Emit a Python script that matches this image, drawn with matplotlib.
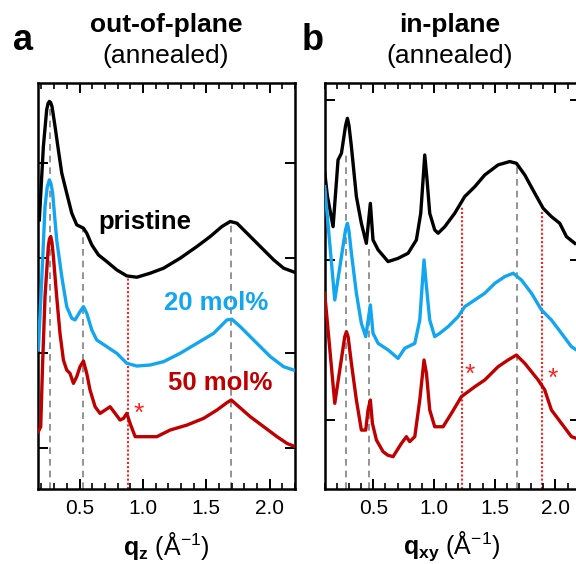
import matplotlib
matplotlib.use('Agg')
import matplotlib.pyplot as plt
from matplotlib.ticker import MultipleLocator, FixedLocator, NullFormatter

plt.rcParams['font.family'] = ['Liberation Sans', 'DejaVu Sans']
plt.rcParams['mathtext.fontset'] = 'custom'
plt.rcParams['mathtext.rm'] = 'Liberation Sans'
plt.rcParams['mathtext.bf'] = 'Liberation Sans:bold'
plt.rcParams['mathtext.it'] = 'Liberation Sans:italic'

# ---------------- Panel a: out-of-plane (q_z) ----------------
qz_pristine = [0.183, 0.215, 0.241, 0.252, 0.262, 0.272, 0.283, 0.307, 0.333, 0.360, 0.399, 0.439,
               0.478, 0.531, 0.557, 0.597, 0.649, 0.715, 0.794, 0.873, 0.952, 1.057,
               1.163, 1.294, 1.426, 1.531, 1.623, 1.689, 1.742, 1.821, 1.926, 2.032,
               2.110, 2.203]
Iz_pristine = [2.400, 3.172, 3.558, 3.625, 3.646, 3.635, 3.593, 3.383, 3.137, 2.892, 2.681, 2.470,
               2.348, 2.313, 2.260, 2.137, 2.032, 1.962, 1.874, 1.811, 1.797, 1.839,
               1.892, 1.997, 2.120, 2.225, 2.330, 2.383, 2.365, 2.260, 2.120, 1.979,
               1.892, 1.846]

qz_20 = [0.175, 0.202, 0.228, 0.245, 0.262, 0.275, 0.288, 0.320, 0.360, 0.399, 0.439, 0.465,
         0.504, 0.531, 0.557, 0.597, 0.636, 0.715, 0.794, 0.873, 0.952, 1.057,
         1.163, 1.294, 1.426, 1.558, 1.663, 1.702, 1.768, 1.873, 2.005, 2.110, 2.189]
Iz_20 = [1.032, 1.769, 2.541, 2.740, 2.821, 2.780, 2.681, 2.190, 1.804, 1.488, 1.365, 1.348,
         1.435, 1.488, 1.418, 1.242, 1.137, 1.067, 0.997, 0.892, 0.863, 0.874,
         0.909, 0.997, 1.102, 1.207, 1.348, 1.355, 1.277, 1.137, 0.962, 0.856, 0.821]

qz_50 = [0.175, 0.194, 0.209, 0.228, 0.254, 0.263, 0.273, 0.283, 0.294, 0.320, 0.346, 0.373,
         0.399, 0.425, 0.452, 0.478, 0.504, 0.531, 0.557, 0.583, 0.623, 0.662,
         0.702, 0.741, 0.781, 0.820, 0.847, 0.873, 0.899, 0.939, 1.005, 1.110,
         1.215, 1.347, 1.479, 1.584, 1.663, 1.697, 1.742, 1.847, 1.953, 2.058,
         2.137, 2.203]
Iz_50 = [0.172, 0.225, 0.892, 1.593, 2.120, 2.200, 2.225, 2.160, 2.014, 1.593, 1.207, 0.927,
         0.821, 0.786, 0.681, 0.751, 0.856, 0.916, 0.786, 0.611, 0.435, 0.365,
         0.400, 0.435, 0.365, 0.295, 0.313, 0.365, 0.260, 0.120, 0.120, 0.120,
         0.190, 0.242, 0.313, 0.400, 0.478, 0.506, 0.453, 0.330, 0.225, 0.120,
         0.049, 0.014]

# reference lines (peak positions) and their upper ends
a_grey_q = [0.267, 0.530, 1.697]
a_grey_top = [3.60, 2.31, 2.37]
a_red_q = [0.881]
a_red_top = [1.80]
a_star = (0.965, 0.365)

# ---------------- Panel b: in-plane (q_xy) ----------------
qxy_pristine = [0.100, 0.122, 0.169, 0.210, 0.238, 0.272, 0.287, 0.300, 0.320, 0.361, 0.402, 0.443,
                0.476, 0.498, 0.540, 0.622, 0.704, 0.787, 0.855, 0.891, 0.910, 0.924,
                0.943, 0.965, 1.006, 1.034, 1.089, 1.171, 1.253, 1.336, 1.418, 1.528,
                1.624, 1.679, 1.748, 1.830, 1.899, 1.967, 2.036, 2.091, 2.160]
Ixy_pristine = [1.550, 1.400, 1.208, 1.625, 1.667, 1.840, 1.885, 1.840, 1.708, 1.396, 1.229, 1.104,
                1.354, 1.125, 1.063, 0.990, 1.010, 1.042, 1.125, 1.292, 1.500, 1.656,
                1.500, 1.292, 1.188, 1.167, 1.208, 1.292, 1.396, 1.458, 1.531, 1.594,
                1.615, 1.604, 1.531, 1.417, 1.323, 1.271, 1.229, 1.146, 1.104]

qxy_20 = [0.100, 0.183, 0.272, 0.287, 0.300, 0.320, 0.361, 0.402, 0.438, 0.476, 0.498, 0.540,
          0.622, 0.704, 0.759, 0.842, 0.883, 0.902, 0.918, 0.938, 0.965, 1.006,
          1.048, 1.116, 1.199, 1.253, 1.336, 1.418, 1.501, 1.583, 1.652, 1.720,
          1.803, 1.885, 1.967, 2.050, 2.132, 2.173]
Ixy_20 = [1.458, 0.750, 1.190, 1.229, 1.180, 1.042, 0.792, 0.604, 0.521, 0.719, 0.542, 0.479,
          0.438, 0.385, 0.448, 0.479, 0.625, 0.833, 1.000, 0.833, 0.625, 0.521,
          0.542, 0.583, 0.646, 0.708, 0.750, 0.792, 0.854, 0.896, 0.917, 0.875,
          0.792, 0.688, 0.625, 0.542, 0.458, 0.438]

qxy_50 = [0.100, 0.183, 0.265, 0.279, 0.293, 0.320, 0.361, 0.402, 0.438, 0.457, 0.476, 0.493,
          0.526, 0.581, 0.620, 0.663, 0.732, 0.773, 0.800, 0.842, 0.883, 0.918, 0.938,
          0.965, 1.006, 1.075, 1.144, 1.226, 1.336, 1.418, 1.528, 1.610, 1.679,
          1.748, 1.858, 1.912, 1.967, 2.050, 2.132, 2.173]
Ixy_50 = [0.792, 0.104, 0.520, 0.552, 0.520, 0.354, 0.125, -0.063, -0.063, 0.063, 0.125, -0.021,
          -0.125, -0.198, -0.220, -0.229, -0.146, -0.104, -0.135, -0.104, 0.125, 0.375, 0.292,
          0.063, -0.042, -0.042, 0.042, 0.146, 0.208, 0.250, 0.333, 0.375, 0.406,
          0.354, 0.250, 0.188, 0.063, -0.021, -0.104, -0.115]

b_grey_q = [0.273, 0.463, 1.685]
b_grey_top = [1.68, 1.10, 1.60]
b_red_q = [1.232, 1.891]
b_red_top = [1.33, 1.31]
b_stars = [(1.295, 0.281), (1.981, 0.260)]

labels = ['pristine', '20 mol%', '50 mol%']
label_pos = [(1.018, 2.382), (1.577, 1.529), (1.610, 0.684)]

BLACK = '#000000'
BLUE = '#12A6F0'
RED = '#C00000'
STAR = '#FF2020'
GREY = '#808080'

fig = plt.figure(figsize=(5.76, 5.64), dpi=100)
axa = fig.add_axes([0.0665, 0.133, 0.4457, 0.7199])
axb = fig.add_axes([0.5637, 0.133, 0.4427, 0.7199])

lw = 2.4


def style(ax, xlim, ylim, yticks):
    ax.set_xlim(*xlim)
    ax.set_ylim(*ylim)
    ax.xaxis.set_major_locator(FixedLocator([0.5, 1.0, 1.5, 2.0]))
    ax.xaxis.set_minor_locator(MultipleLocator(0.1))
    ax.set_xticklabels(['0.5', '1.0', '1.5', '2.0'])
    ax.yaxis.set_major_locator(FixedLocator(yticks))
    ax.yaxis.set_major_formatter(NullFormatter())
    ax.tick_params(which='both', direction='in', top=True, right=True)
    ax.tick_params(which='major', length=7, width=1.4, labelsize=15, pad=7)
    ax.tick_params(which='minor', length=4, width=1.2)
    ax.tick_params(axis='y', which='minor', left=False, right=False)
    for s in ax.spines.values():
        s.set_linewidth(1.8)


# panel a
ylo_a = -0.43
axa.vlines(a_grey_q, ylo_a, a_grey_top, colors=GREY, linestyles=(0, (4, 3)), lw=1.2, zorder=1)
axa.vlines(a_red_q, ylo_a, a_red_top, colors=STAR, linestyles=(0, (1, 1)), lw=1.5, zorder=1)
axa.plot(qz_pristine, Iz_pristine, color=BLACK, lw=lw, zorder=3)
axa.plot(qz_20, Iz_20, color=BLUE, lw=lw, zorder=3)
axa.plot(qz_50, Iz_50, color=RED, lw=lw, zorder=3)
for t, (x, y), c in zip(labels, label_pos, [BLACK, BLUE, RED]):
    axa.text(x, y, t, color=c, fontsize=18.5, fontweight='bold', ha='center', va='center')
axa.text(a_star[0], a_star[1], '*', color=STAR, fontsize=19, ha='center', va='center')
style(axa, (0.175, 2.2), (ylo_a, 3.84), [0, 1, 2, 3])
axa.set_xlabel(r'$\mathbf{q}_\mathbf{z}$ (Å$^{-1}$)', fontsize=18)
axa.xaxis.set_label_coords(0.5, -0.1)

# panel b
ylo_b = -0.431
axb.vlines(b_grey_q, ylo_b, b_grey_top, colors=GREY, linestyles=(0, (4, 3)), lw=1.2, zorder=1)
axb.vlines(b_red_q, ylo_b, b_red_top, colors=STAR, linestyles=(0, (1, 1)), lw=1.5, zorder=1)
axb.plot(qxy_pristine, Ixy_pristine, color=BLACK, lw=lw, zorder=3)
axb.plot(qxy_20, Ixy_20, color=BLUE, lw=lw, zorder=3)
axb.plot(qxy_50, Ixy_50, color=RED, lw=lw, zorder=3)
for (x, y) in b_stars:
    axb.text(x, y, '*', color=STAR, fontsize=19, ha='center', va='center')
style(axb, (0.1, 2.2), (ylo_b, 2.106), [0, 1, 2])
axb.set_xlabel(r'$\mathbf{q}_\mathbf{xy}$ (Å$^{-1}$)', fontsize=18)
axb.xaxis.set_label_coords(0.5, -0.1)

# panel letters and titles
fig.text(22.5 / 576, 1 - 50 / 564, 'a', fontsize=26, fontweight='bold', ha='center', va='baseline')
fig.text(313 / 576, 1 - 50 / 564, 'b', fontsize=26, fontweight='bold', ha='center', va='baseline')
fig.text(166 / 576, 1 - 32 / 564, 'out-of-plane', fontsize=19, fontweight='bold', ha='center', va='baseline')
fig.text(166 / 576, 1 - 63 / 564, '(annealed)', fontsize=19, ha='center', va='baseline')
fig.text(450 / 576, 1 - 32 / 564, 'in-plane', fontsize=19, fontweight='bold', ha='center', va='baseline')
fig.text(450 / 576, 1 - 63 / 564, '(annealed)', fontsize=19, ha='center', va='baseline')

fig.savefig('out.png', dpi=100)
